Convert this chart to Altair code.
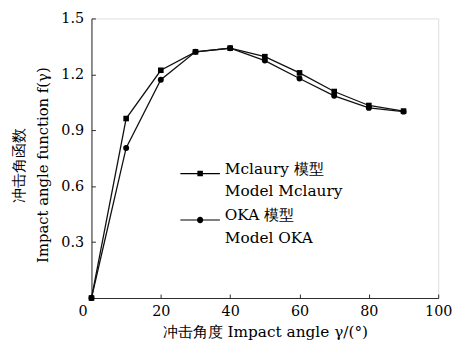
import altair as alt
import pandas as pd

# ---- data ----
angles = [0, 10, 20, 30, 40, 50, 60, 70, 80, 90]
mclaury = [0.0, 0.963, 1.222, 1.321, 1.341, 1.295, 1.208, 1.108, 1.033, 1.003]
oka = [0.0, 0.805, 1.171, 1.321, 1.340, 1.274, 1.178, 1.085, 1.020, 1.000]
series_names = ["Mclaury 模型|Model Mclaury", "OKA 模型|Model OKA"]
x_ticks = [0, 20, 40, 60, 80, 100]
y_ticks = [0.3, 0.6, 0.9, 1.2, 1.5]

rows = []
for name, vals in zip(series_names, [mclaury, oka]):
    for a, v in zip(angles, vals):
        rows.append({"angle": a, "f": v, "model": name})
df = pd.DataFrame(rows)

FONT = "DejaVu Serif"
AX = "#2a2a2a"

x = alt.X(
    "angle:Q",
    scale=alt.Scale(domain=[0, 100], nice=False, zero=False),
    axis=alt.Axis(
        values=x_ticks,
        title="冲击角度 Impact angle γ/(°)",
        titleFont=FONT, titleFontSize=15.5, titleFontWeight="normal", titleColor="black",
        titlePadding=6,
        labelFont=FONT, labelFontSize=14.5, labelColor="black", labelPadding=11,
        labelFlush=False, labelOverlap=False,
        labelOffset={"condition": {"test": "datum.value === 0", "value": -9}, "value": 0},
        domainColor=AX, tickColor=AX, tickSize={"expr": "-4"}, grid=False,
    ),
)
y = alt.Y(
    "f:Q",
    scale=alt.Scale(domain=[0, 1.5], nice=False),
    axis=alt.Axis(
        values=y_ticks,
        format=".1f",
        title=["冲击角函数", "Impact angle function f(γ)"],
        titleFont=FONT, titleFontSize=15, titleFontWeight="normal", titleColor="black",
        titleLineHeight=25, titlePadding=10, titleY=148,
        labelFont=FONT, labelFontSize=14.5, labelColor="black", labelPadding=12,
        labelFlush=False, labelOverlap=False,
        domainColor=AX, tickColor=AX, tickSize={"expr": "-4"}, grid=False,
    ),
)

lines = alt.Chart(df).mark_line(color="#111111", strokeWidth=1.3).encode(
    x=x, y=y, detail="model:N"
)

points = alt.Chart(df).mark_point(filled=True, color="#000000", opacity=1).encode(
    x=x,
    y=y,
    shape=alt.Shape("model:N", scale=alt.Scale(domain=series_names, range=["square", "circle"]), legend=None),
    size=alt.Size("model:N", scale=alt.Scale(domain=series_names, range=[32, 36]), legend=None),
)

# legend symbols: a thin filled bar (the line) with a marker in the middle
path_sq = ("M-1,-0.03L1,-0.03L1,0.03L-1,0.03Z"
           "M-0.14,-0.14L0.14,-0.14L0.14,0.14L-0.14,0.14Z")
path_ci = ("M-1,-0.03L1,-0.03L1,0.03L-1,0.03Z"
           "M0.16,0A0.16,0.16,0,1,1,-0.16,0A0.16,0.16,0,1,1,0.16,0Z")

legend_layer = alt.Chart(df).mark_point(filled=True, opacity=0, color="black").encode(
    x=x,
    y=y,
    shape=alt.Shape(
        "model:N",
        scale=alt.Scale(domain=series_names, range=[path_sq, path_ci]),
        legend=alt.Legend(
            title=None,
            orient="none",
            legendX=90,
            legendY=137,
            padding=0,
            symbolSize=1600,
            symbolFillColor="black",
            symbolStrokeColor="black",
            symbolStrokeWidth=0,
            symbolOpacity=1,
            labelExpr="split(datum.label, '|')",
            labelFont=FONT,
            labelFontSize=15.5,
            labelColor="black",
            labelBaseline="alphabetic",
            labelOffset=5,
            labelLimit=300,
            rowPadding=-16,
        ),
    ),
)

chart = (
    alt.layer(lines, points, legend_layer)
    .resolve_scale(shape="independent", size="independent")
    .properties(
        width=351,
        height=283,
        autosize=alt.AutoSizeParams(type="none"),
        padding={"left": 84.5, "top": 8.5, "right": 17, "bottom": 46},
        background="white",
    )
    .configure_view(stroke=None)
    .configure(style={"guide-label": {"lineHeight": 23}})
)

chart.save("out.html", embed_options={"renderer": "svg", "actions": False})
